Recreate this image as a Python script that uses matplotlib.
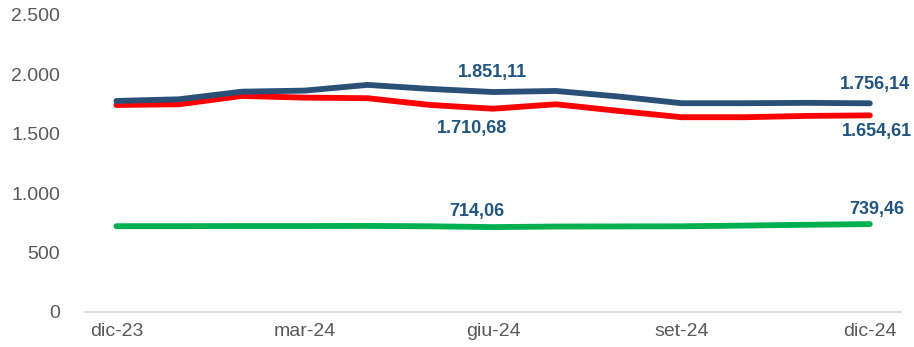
import matplotlib.pyplot as plt
from matplotlib.ticker import FuncFormatter

plt.rcParams['font.family'] = ['Liberation Sans', 'DejaVu Sans']

mesi = ['dic-23', 'gen-24', 'feb-24', 'mar-24', 'apr-24', 'mag-24', 'giu-24',
        'lug-24', 'ago-24', 'set-24', 'ott-24', 'nov-24', 'dic-24']
blu = [1776, 1790, 1854, 1863, 1911, 1877, 1851.11, 1860, 1813, 1757, 1757, 1760, 1756.14]
rosso = [1742, 1748, 1818, 1804, 1799, 1742, 1710.68, 1748, 1692, 1639, 1639, 1650, 1654.61]
verde = [722, 722, 723, 723, 724, 721, 714.06, 719, 720, 721, 727, 734, 739.46]


def it_num(v, dec=0):
    s = f'{v:,.{dec}f}'
    return s.replace(',', 'X').replace('.', ',').replace('X', '.')


fig = plt.figure(figsize=(9.14, 3.47), dpi=100)
ax = fig.add_axes([0.093, 0.101, 0.893, 0.856])

x = range(len(mesi))
ax.plot(x, verde, color='#00B050', lw=4.2, solid_capstyle='round')
ax.plot(x, rosso, color='#FF0000', lw=4.2, solid_capstyle='round')
ax.plot(x, blu, color='#2A5078', lw=4.2, solid_capstyle='round')

ax.set_xlim(-0.5, len(mesi) - 0.5)
ax.set_ylim(0, 2500)
ax.set_yticks(range(0, 2501, 500))
ax.yaxis.set_major_formatter(FuncFormatter(lambda v, p: it_num(v)))
ax.set_xticks(range(0, len(mesi), 3))
ax.set_xticklabels(mesi[::3])

for s in ['top', 'right', 'left']:
    ax.spines[s].set_visible(False)
ax.spines['bottom'].set_color('#D9D9D9')
ax.spines['bottom'].set_linewidth(1.3)
ax.tick_params(length=0, labelsize=14, colors='#595959', pad=8)
ax.tick_params(axis='y', pad=18)

# etichette dei valori: (serie, indice, spostamento in pixel)
etichette = [
    (blu, 6, (-1, 20)), (rosso, 6, (-21, -20)), (verde, 6, (-16, 16)),
    (blu, 12, (5, 19)), (rosso, 12, (7, -16)), (verde, 12, (7, 15)),
]
for serie, i, off in etichette:
    ax.annotate(it_num(serie[i], 2), (i, serie[i]), xytext=off,
                textcoords='offset pixels', ha='center', va='center',
                color='#1F5584', fontsize=13, fontweight='bold')

fig.savefig('out.png', dpi=100)
